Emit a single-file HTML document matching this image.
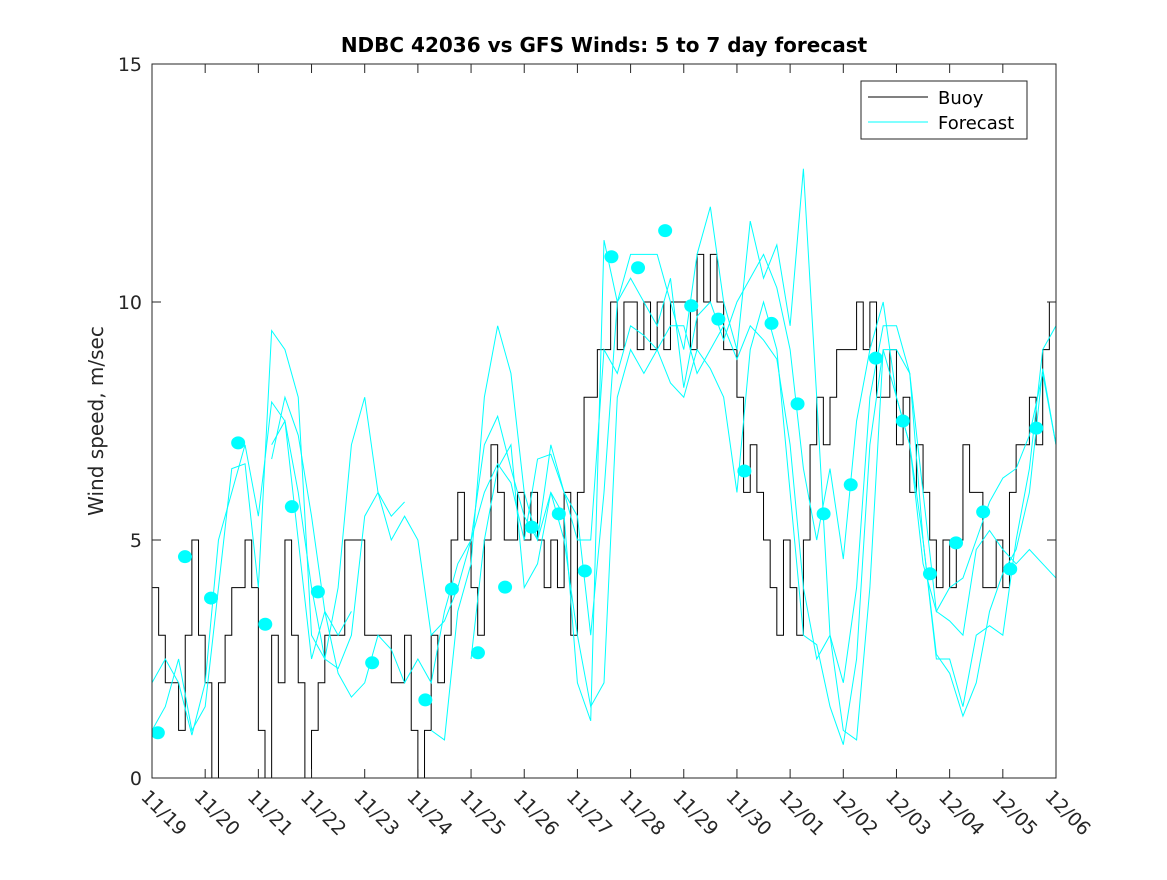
<!DOCTYPE html>
<html><head><meta charset="utf-8"><style>
body{margin:0;background:#fff;width:1167px;height:875px;overflow:hidden}
svg{font-family:"DejaVu Sans","Liberation Sans",sans-serif}
</style></head><body>
<svg id="chart" width="1167" height="875" xmlns="http://www.w3.org/2000/svg">
<defs><clipPath id="clip"><rect x="152" y="64" width="904" height="714"/></clipPath></defs>
<rect x="0" y="0" width="1167" height="875" fill="#fff"/>
<text x="604" y="52" text-anchor="middle" font-size="20" font-weight="bold" fill="#000">NDBC 42036 vs GFS Winds: 5 to 7 day forecast</text>
<text transform="translate(103,421) rotate(-90)" text-anchor="middle" font-size="20" fill="#262626">Wind speed, m/sec</text>
<g id="series" clip-path="url(#clip)"></g>
<rect x="152" y="64" width="904" height="714" fill="none" stroke="#262626" stroke-width="1"/>
<g id="ticks"></g>
<g>
<rect x="861" y="81" width="166" height="58" fill="#fff" stroke="#262626" stroke-width="1"/>
<line x1="868" y1="97" x2="928" y2="97" stroke="#000" stroke-width="1"/>
<text x="938" y="104" font-size="18" fill="#000">Buoy</text>
<line x1="868" y1="122" x2="928" y2="122" stroke="#0ff" stroke-width="1"/>
<text x="938" y="129" font-size="18" fill="#000">Forecast</text>
</g>
</svg>
<script>
const xTickLabels=["11/19","11/20","11/21","11/22","11/23","11/24","11/25","11/26","11/27","11/28","11/29","11/30","12/01","12/02","12/03","12/04","12/05","12/06"];
const yTicks=[0,5,10,15];
// buoy wind speed, 3-hourly from 11/19 00:00
const buoy=[4,3,2,2,1,3,5,3, 2,0,2,3,4,4,5,4, 1,0,3,2,5,3,2,0, 1,2,3,3,3,5,5,5, 3,3,3,3,2,2,3,1, 0,1,3,2,3,5,6,5, 4,3,5,7,6,5,5,6, 5,6,5,4,5,4,6,3, 6,8,8,9,9,10,9,10, 10,9,10,9,10,9,10,10, 10,9,11,10,11,10,9,9, 8,6,7,6,5,4,3,5, 4,3,5,7,8,7,8,9, 9,9,10,9,10,8,8,9, 7,8,6,7,6,5,4,5, 4,5,7,6,6,4,4,5, 4,6,7,7,8,7,9,10];
const dotDays=[0.11,0.62,1.11,1.62,2.13,2.63,3.12,4.14,5.14,5.64,6.13,6.64,7.14,7.65,8.14,8.64,9.14,9.65,10.14,10.65,11.14,11.65,12.14,12.63,13.14,13.61,14.12,14.63,15.12,15.63,16.14,16.63];
const dotVals=[0.95,4.65,3.78,7.04,3.23,5.7,3.91,2.42,1.64,3.97,2.63,4.01,5.27,5.55,4.35,10.95,10.72,11.5,9.92,9.64,6.45,9.55,7.86,5.55,6.16,8.82,7.5,4.29,4.94,5.59,4.39,7.35];
// forecast series, every 0.25 day from 11/19 (null = gap)
const fc1=[1,1.5,2.5,1,1.5,4,6.5,6.6,4,9.4,9,8,3,2.5,4,7,8,6,5.5,5.8,null,1,0.8,3.5,4.5,8,9.5,8.5,6,5,6,5.5,2,1.2,11.3,10,11,11,11,10,9,11,12,10,9,11.7,10.5,11.2,9.5,12.8,8,3,1,0.8,4,9,9,8.5,5,2.5,2.5,1.5,3,3.2,3,5,6.5,9,9.5];
const fc2=[2,2.5,2,0.9,2,5,6,7,5.5,7.9,7.5,5,2.5,3.5,2.2,1.7,2,3,2.7,2,2.5,2,3.5,4.5,5,7,7.6,6.5,5.5,5,7,6,5.5,3,6,10,10.5,10,9.5,10.5,8.2,9.7,10,9.2,10,10.5,11,10.3,9,6.5,5,6.5,4.6,7.5,9,10,8,7,4.5,3.5,4,4.2,5,5.8,6.3,6.5,7.2,8.5,7];
const fc3=[null,null,null,null,null,null,null,null,null,7,7.5,6,4,2.5,2.3,3,5.5,6,5,5.5,5,3,3.3,4,5,6,6.6,6.2,5,6.7,6.8,6,5,5,9,8.5,9.5,9.3,9,9.5,9.5,8.5,9,9.5,8.8,9.5,9.2,8.8,7,4,2.5,3,2,4,8,9.5,9.5,8.5,6,3.5,3.3,3,4.8,5.2,4.8,4.5,4.8,4.5,4.2];
const fc4=[null,null,null,null,null,null,null,null,null,6.7,8,7.2,5.5,3.5,3,3.5,null,null,null,null,null,null,null,null,2.5,5,6.5,7,4,4.5,6,5,3,1.5,2,8,9,8.5,9,8.3,8,9,8.6,8,6,9,10,9,6,3,2.8,1.5,0.7,2.5,7,9,8,7,5,2.6,2.2,1.3,2,3.5,4.3,4.8,6,8.6,7];

const X0=152,PW=904,DAYS=17,Y0=778,PH=714,YMAX=15;
const xs=d=>X0+d/DAYS*PW;
const ys=v=>Y0-v/YMAX*PH;
const NS="http://www.w3.org/2000/svg";
function mk(tag,attrs,parent){const e=document.createElementNS(NS,tag);for(const k in attrs)e.setAttribute(k,attrs[k]);parent.appendChild(e);return e;}
const ticks=document.getElementById('ticks'),series=document.getElementById('series');
xTickLabels.forEach((lab,i)=>{
  const x=xs(i);
  const t1=mk('line',{x1:x,y1:Y0,x2:x,y2:Y0-9,stroke:'#262626'},ticks);
  
  
  const t2=mk('line',{x1:x,y1:64,x2:x,y2:73,stroke:'#262626'},ticks);
  
  
  const tx=mk('text',{transform:`translate(${x-12},${Y0+20}) rotate(45)`,'font-size':19,fill:'#262626'},ticks);
  tx.textContent=lab;
  
  
});
yTicks.forEach(v=>{
  const y=ys(v);
  const a=mk('line',{x1:X0,y1:y,x2:X0+9,y2:y,stroke:'#262626'},ticks);
  
  
  const b=mk('line',{x1:X0+PW-9,y1:y,x2:X0+PW,y2:y,stroke:'#262626'},ticks);
  
  
  const tx=mk('text',{x:X0-10,y:y+7,'text-anchor':'end','font-size':19,fill:'#262626'},ticks);
  tx.textContent=v;
  
  
});
let d='';
buoy.forEach((v,i)=>{const x1=xs(i*0.125),x2=xs((i+1)*0.125),y=ys(v);d+=(i?'L':'M')+x1+' '+y+'L'+x2+' '+y;});
const bp=mk('path',{d:d,fill:'none',stroke:'#000','stroke-width':1},series);


[fc1,fc2,fc3,fc4].forEach((arr,k)=>{
  let p='',pen=false;
  arr.forEach((v,i)=>{if(v===null){pen=false;return;}p+=(pen?'L':'M')+xs(i*0.25)+' '+ys(v);pen=true;});
  const fp=mk('path',{d:p,fill:'none',stroke:'#0ff','stroke-width':1},series);
  
  
});
dotDays.forEach((dd,i)=>{
  const c=mk('ellipse',{cx:xs(dd),cy:ys(dotVals[i]),rx:7,ry:6.5,fill:'#0ff'},series);
  
  
});
</script>
</body></html>
